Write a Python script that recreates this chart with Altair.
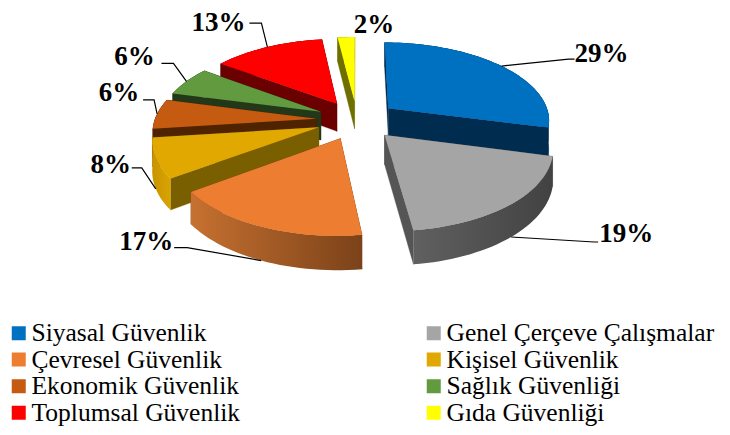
import math
import altair as alt

categories = ["Siyasal Güvenlik", "Genel Çerçeve Çalışmalar", "Çevresel Güvenlik", "Kişisel Güvenlik",
              "Ekonomik Güvenlik", "Sağlık Güvenliği", "Toplumsal Güvenlik", "Gıda Güvenliği"]
shares = [29, 19, 17, 8, 6, 6, 13, 2]
top_colors = ["#0070c0", "#a5a5a5", "#ed7d31", "#e0a800", "#c55a11", "#629b3f", "#ff0000", "#ffff00"]
side_colors = ["#002c50", "#555555", "#7b4219", "#7a5f00", "#4f2200", "#233818", "#6b0000", "#6f6f00"]
rim_left = ["#002c50", "#606060", "#c67130", "#c89500", "#4f2200", "#233818", "#6b0000", "#6f6f00"]
rim_right = ["#002c50", "#424242", "#7b4219", "#d9a300", "#4f2200", "#233818", "#6b0000", "#6f6f00"]
draw_order = [7, 6, 0, 5, 4, 3, 1, 2]

# projection of the tilted pie (page pixels less the 8px margin)
CX, CY, RX, RY, K, EXPLODE, DEPTH = 349, 112, 162, 78, 0.14, 0.25, 28.5


def project(u, v, drop=0):
    f = 1 / (1 - K * v)
    return [CX + RX * u * f, CY + RY * v * f + drop * DEPTH * f]


def slice_geometry(start, end):
    mid = math.radians((start + end) / 2)
    ax, ay = EXPLODE * math.sin(mid), -EXPLODE * math.cos(mid)
    n = max(4, int((end - start) / 2))
    angles = [math.radians(start + (end - start) * i / n) for i in range(n + 1)]
    rim = [(ax + math.sin(t), ay - math.cos(t)) for t in angles]
    return (ax, ay), rim, (ax + math.sin(mid), ay - math.cos(mid))


def feature(ring, name=""):
    ring = [list(p) for p in ring] + [list(ring[0])]
    return {"type": "Feature", "properties": {"name": name},
            "geometry": {"type": "Polygon", "coordinates": [ring]}}


def line_feature(points):
    return {"type": "Feature", "properties": {},
            "geometry": {"type": "LineString", "coordinates": points}}


proj = dict(type="identity", scale=1, translate=[0, 0])

slices = []
acc = 0.0
total = sum(shares)
for s in shares:
    a0 = acc / total * 360
    acc += s
    slices.append((a0, acc / total * 360))

tops = {}
layers = []
geo = {}
for i, (a0, a1) in enumerate(slices):
    geo[i] = slice_geometry(a0, a1)
    apex, rim, _ = geo[i]
    tops[i] = feature([project(*apex)] + [project(*p) for p in rim], categories[i])

# legend-carrying layer
legend_layer = alt.Chart(alt.Data(values=[tops[i] for i in range(8)])).mark_geoshape(strokeWidth=0).encode(
    fill=alt.Fill("properties.name:N",
                  scale=alt.Scale(domain=categories, range=top_colors),
                  sort=categories,
                  legend=alt.Legend(title=None, orient="none", legendX=-2, legendY=313, columns=2,
                                    direction="horizontal", padding=0,
                                    symbolType="square", symbolSize=196, symbolStrokeWidth=0,
                                    labelFont="Liberation Serif", labelFontSize=25.5, labelColor="#000000",
                                    labelLimit=400, labelOffset=0, rowPadding=0.6, columnPadding=121,
                                    gridAlign="all", clipHeight=24)),
).project(**proj)
layers.append(legend_layer)

for i in draw_order:
    apex, rim, _ = geo[i]
    faces = []
    for edge in (rim[0], rim[-1]):
        faces.append(feature([project(*apex), project(*edge), project(*edge, 1), project(*apex, 1)]))
    layers.append(alt.Chart(alt.Data(values=faces)).mark_geoshape(
        fill=side_colors[i], stroke=side_colors[i], strokeWidth=0.3).project(**proj))
    strip = [project(*p) for p in rim] + [project(*p, 1) for p in reversed(rim)]
    layers.append(alt.Chart(alt.Data(values=[feature(strip)])).mark_geoshape(
        fill=alt.Gradient(gradient="linear", x1=0, x2=1, y1=0, y2=0,
                          stops=[alt.GradientStop(color=rim_left[i], offset=0),
                                 alt.GradientStop(color=rim_right[i], offset=1)]),
        strokeWidth=0).project(**proj))
    layers.append(alt.Chart(alt.Data(values=[tops[i]])).mark_geoshape(
        fill=top_colors[i], strokeWidth=0).project(**proj))

# leaders: start on the rim at mid-angle; drop = on lower edge of rim
label_text = ["29%", "19%", "17%", "8%", "6%", "6%", "13%", "2%"]
leader_drop = [0, 1, 1, 1, 0, 0, 0, None]
elbow_offset = [(67, -7), (83, 5), (-74, -13), (-14, -21), (-3, -14), (-13, -18), (-6, -24), None]
tail = [(6, 0), (4, 0), (-13, 0), (-10, 0), (-11, 0), (-12, 0), (-12, 0), None]
label_offset = [(33, -5), (32, -8), (-41, -6), (-31, -3), (-35, -7), (-39, -6), (-43, 0), None]

label_rows = []
for i, txt in enumerate(label_text):
    _, _, mid_pt = geo[i]
    start = project(*mid_pt, leader_drop[i] or 0)
    if elbow_offset[i] is None:
        label_rows.append({"t": txt, "lon": CX + 17, "lat": 16.5})
        continue
    elbow = [start[0] + elbow_offset[i][0], start[1] + elbow_offset[i][1]]
    end = [elbow[0] + tail[i][0], elbow[1] + tail[i][1]]
    layers.append(alt.Chart(alt.Data(values=[line_feature([start, elbow, end])])).mark_geoshape(
        filled=False, stroke="#000000", strokeWidth=1.2).project(**proj))
    label_rows.append({"t": txt, "lon": elbow[0] + label_offset[i][0], "lat": elbow[1] + label_offset[i][1]})

text_layer = alt.Chart(alt.Data(values=label_rows)).mark_text(
    font="Liberation Serif", fontWeight="bold", fontSize=27, color="#000000",
    align="center", baseline="middle").encode(
    longitude="lon:Q", latitude="lat:Q", text="t:N").project(**proj)
layers.append(text_layer)

chart = alt.layer(*layers).properties(width=714, height=419, padding=0, background="white",
                                      autosize=alt.AutoSizeParams(type="none")
                                      ).configure_view(stroke=None)
chart.save("out.html", embed_options={"renderer": "svg", "actions": False})
